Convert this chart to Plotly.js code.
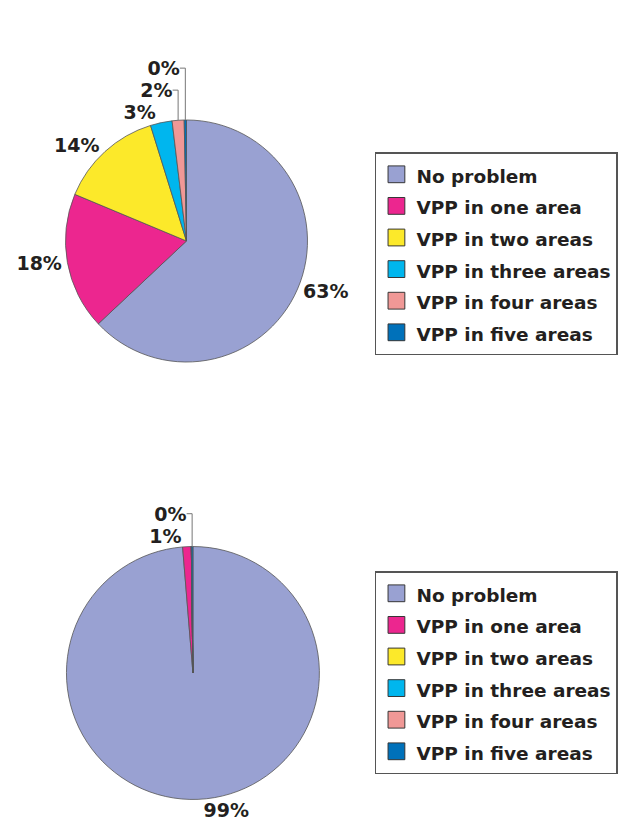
<!DOCTYPE html>
<html>
<head>
<meta charset="utf-8">
<script src="https://cdn.plot.ly/plotly-3.0.1.min.js"></script>
<style>
html,body{margin:0;padding:0;background:#fff;}
#chart{width:618px;height:838px;}
</style>
</head>
<body>
<div id="chart"></div>
<script>
// ---- data ----
const categories = ["No problem", "VPP in one area", "VPP in two areas", "VPP in three areas", "VPP in four areas", "VPP in five areas"];
const valuesTop = [63.0, 18.3, 13.9, 2.9, 1.6, 0.3];
const valuesBottom = [98.7, 1.1, 0, 0, 0, 0.2];
const sliceColors = ["#99A1D2", "#EC268F", "#FCE92A", "#00B6EE", "#F09896", "#0071BA"];

const W = 618, H = 838;
const px = v => v / W;
const py = v => 1 - v / H;

const FONT = "DejaVu Sans";
// distinct label markup per pie so each pie gets its own legend entries
const labelsFor = (suffix) => categories.map(c => '<span style="font-size:18.5px' + suffix + '">' + c + '</span>');

function pieTrace(vals, dom, legendId, suffix) {
  return {
    type: "pie",
    labels: labelsFor(suffix),
    values: vals,
    sort: false,
    direction: "clockwise",
    rotation: 0,
    domain: dom,
    marker: { colors: sliceColors, line: { color: "#555555", width: 0.8 } },
    texttemplate: vals.map(v => v > 0 ? "%{percent:.0%}" : ""),
    textposition: "outside",
    outsidetextfont: { family: FONT, size: 19, color: "#231F20", weight: "bold" },
    hoverinfo: "none",
    legend: legendId,
    showlegend: true
  };
}

const traces = [
  pieTrace(valuesTop, { x: [px(66), px(310)], y: [py(363), py(119)] }, "legend", ""),
  pieTrace(valuesBottom, { x: [px(67), px(322)], y: [py(800), py(546)] }, "legend2", ";")
];

const legendCommon = {
  font: { family: FONT, size: 22, color: "#231F20", weight: "bold" },
  bordercolor: "#555555",
  borderwidth: 1.5,
  bgcolor: "#ffffff",
  xanchor: "left",
  yanchor: "top",
  traceorder: "normal",
  itemclick: false
};

const layout = {
  width: W, height: H,
  margin: { l: 0, r: 0, t: 0, b: 0 },
  paper_bgcolor: "#ffffff",
  showlegend: true,
  legend: Object.assign({}, legendCommon, { x: px(378), y: py(152) }),
  legend2: Object.assign({}, legendCommon, { x: px(378), y: py(571) })
};

Plotly.newPlot("chart", traces, layout, { staticPlot: true }).then(() => {
  document.querySelectorAll(".legendpoints path").forEach(p => {
    const t = p.getAttribute("transform") || "";
    p.setAttribute("transform", t + " scale(1.4)");
    p.style.strokeWidth = "0.7px";
    p.style.stroke = "#333";
  });
  document.querySelectorAll("path.textline").forEach(p => {
    p.style.stroke = "#777";
    p.style.strokeWidth = "1px";
  });
});
</script>
</body>
</html>
